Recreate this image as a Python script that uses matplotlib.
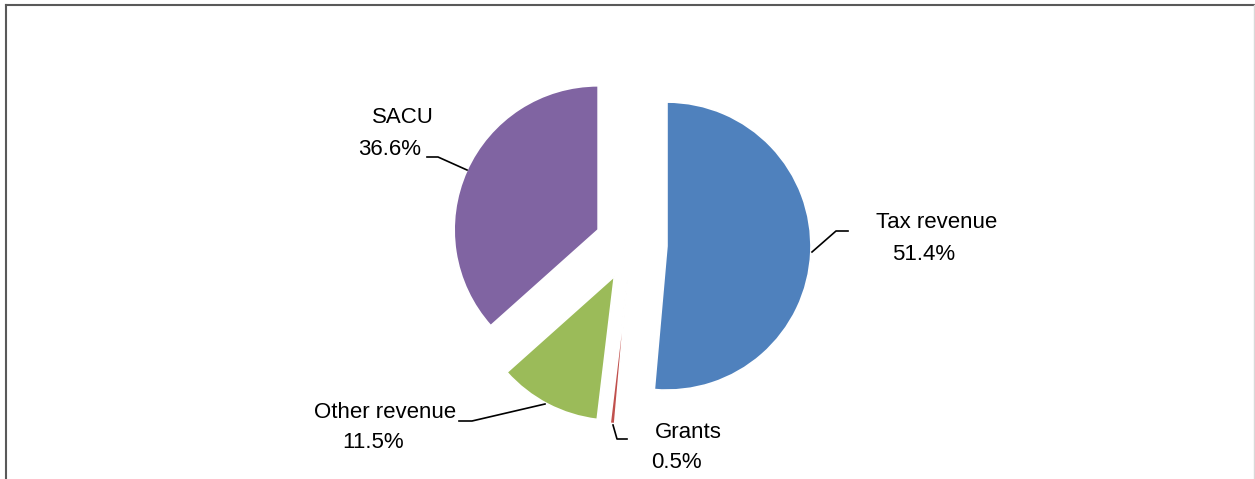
import matplotlib
matplotlib.use("Agg")
import matplotlib.pyplot as plt

categories = ["Tax revenue", "Grants", "Other revenue", "SACU"]
shares = [51.4, 0.5, 11.5, 36.6]
pct_labels = ["51.4%", "0.5%", "11.5%", "36.6%"]
colors = ["#4F81BD", "#C0504D", "#9BBB59", "#8064A2"]

W, H = 1255, 479
fig = plt.figure(figsize=(W / 100, H / 100), dpi=100)
ax = fig.add_axes([0, 0, 1, 1])

def Y(py):
    return H - py

fam = ["Liberation Sans", "DejaVu Sans"]

R = 144
ax.pie(shares, colors=colors, startangle=90, counterclock=False,
       radius=R, center=(631, Y(244.5)), explode=[36] * 4,
       wedgeprops=dict(edgecolor="white", linewidth=1.2))

ax.set_xlim(0, W)
ax.set_ylim(0, H)
ax.set_aspect("equal")
ax.axis("off")

fs = 16
txt = dict(fontsize=fs, family=fam, color="black", ha="center", va="center")
# Tax revenue
ax.text(937, Y(222), categories[0], **txt)
ax.text(924, Y(254), pct_labels[0], **txt)
ax.plot([812, 836, 848], [Y(252), Y(231), Y(231)], color="black", lw=1.2)
# SACU
ax.text(403, Y(117), categories[3], **txt)
ax.text(390, Y(149), pct_labels[3], **txt)
ax.plot([427, 438, 467], [Y(157), Y(157), Y(170)], color="black", lw=1.2)
# Other revenue
ax.text(385, Y(412), categories[2], **txt)
ax.text(373, Y(443), pct_labels[2], **txt)
ax.plot([459, 472, 545], [Y(421), Y(421), Y(404)], color="black", lw=1.2)
# Grants
ax.text(688, Y(432), categories[1], **txt)
ax.text(676, Y(463), pct_labels[1], **txt)
ax.plot([613, 617, 627], [Y(425), Y(439), Y(439)], color="black", lw=1.2)

# frame
ax.plot([6, 6], [Y(479), Y(5)], color="#595959", lw=1.5)
ax.plot([6, 1254], [Y(5), Y(5)], color="#595959", lw=1.5)
ax.plot([1254, 1254], [Y(5), Y(479)], color="#D9D9D9", lw=1)

fig.savefig("out.png", dpi=100)
